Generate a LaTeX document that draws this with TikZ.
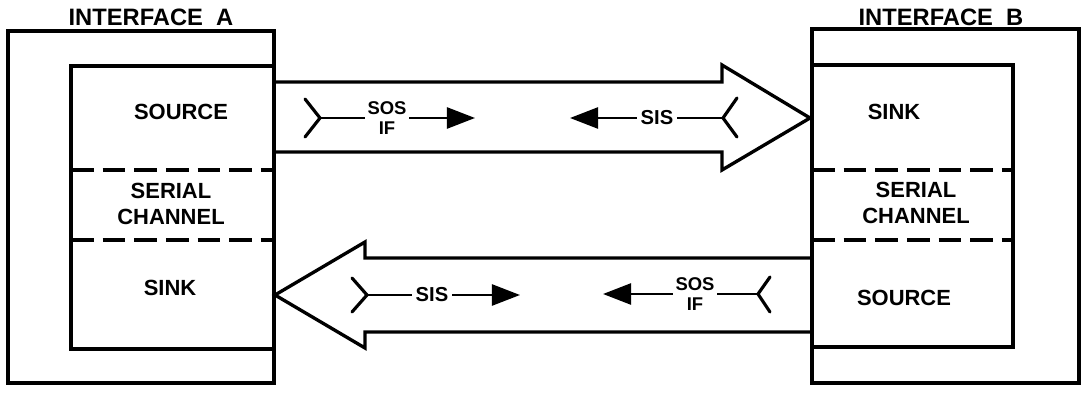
\documentclass[tikz,border=0pt]{standalone}
\usepackage{fontspec}
\setmainfont{Liberation Sans}
\usetikzlibrary{arrows.meta,fit}
\begin{document}
\begin{tikzpicture}[x=0.02cm,y=-0.02cm,
  frame/.style={draw,line width=1.9pt,inner sep=0pt},
  sepline/.style={line width=1.9pt,dash pattern=on 13pt off 5pt},
  bigarrow/.style={line width=1.9pt,line join=miter},
  sig/.style={line width=1.4pt},
  fork/.style={line width=1.8pt,line cap=round},
  tip/.style={-{Triangle[length=16pt,width=12pt]}},
  title/.style={font=\fontsize{13.5}{15}\selectfont\bfseries},
  boxlabel/.style={font=\fontsize{12.5}{15}\selectfont\bfseries,align=center},
  siglabel/.style={font=\fontsize{11.5}{12}\selectfont\bfseries,inner sep=2pt},
  stacklabel/.style={font=\fontsize{10.5}{11}\selectfont\bfseries,align=center,inner sep=1.5pt}]
\useasboundingbox (0,0) rectangle (1082,395);

% interface A
\node[frame,fit={(8,31) (274,383)}] (outA) {};
\node[frame,fit={(71,66) (274,349)}] (inA) {};
\draw[sepline] (71,170) -- (274,170);
\draw[sepline] (71,240) -- (274,240);
\node[title] (tA) at (151,17) {INTERFACE\ \ A};
\node[boxlabel] (srcA) at (181,112) {SOURCE};
\node[boxlabel] (serA) at (171,204) {SERIAL\\CHANNEL};
\node[boxlabel] (snkA) at (170,288) {SINK};

% interface B
\node[frame,fit={(812,29) (1079,383)}] (outB) {};
\node[frame,fit={(812,65) (1013,347)}] (inB) {};
\draw[sepline] (812,170) -- (1013,170);
\draw[sepline] (812,240) -- (1013,240);
\node[title] (tB) at (941,17) {INTERFACE\ \ B};
\node[boxlabel] (snkB) at (894,112) {SINK};
\node[boxlabel] (serB) at (916,203) {SERIAL\\CHANNEL};
\node[boxlabel] (srcB) at (904,298) {SOURCE};

% wide channel arrow A -> B
\draw[bigarrow] (274,82) -- (722,82) -- (722,65) -- (810,118)
  -- (722,170) -- (722,152) -- (274,152);
% wide channel arrow B -> A
\draw[bigarrow] (812,258) -- (365,258) -- (365,242) -- (275,295)
  -- (365,348) -- (365,332) -- (812,332);

% signals in the upper channel
\coordinate (f1) at (320,118);
\coordinate (t1) at (475,118);
\node[stacklabel] (l1) at (387,118) {SOS\\[0pt]IF};
\draw[fork] (305,99) -- (f1) -- (305,137);
\draw[sig] (f1) -- (l1);
\draw[sig,tip] (l1) -- (t1);

\coordinate (f2) at (723,118);
\coordinate (t2) at (570,118);
\node[siglabel] (l2) at (657,118) {SIS};
\draw[fork] (737,98) -- (f2) -- (737,137);
\draw[sig] (f2) -- (l2);
\draw[sig,tip] (l2) -- (t2);

% signals in the lower channel
\coordinate (f3) at (367,295);
\coordinate (t3) at (520,295);
\node[siglabel] (l3) at (432,295) {SIS};
\draw[fork] (352,278) -- (f3) -- (352,312);
\draw[sig] (f3) -- (l3);
\draw[sig,tip] (l3) -- (t3);

\coordinate (f4) at (758,294);
\coordinate (t4) at (603,294);
\node[stacklabel] (l4) at (695,294) {SOS\\[0pt]IF};
\draw[fork] (770,277) -- (f4) -- (770,312);
\draw[sig] (f4) -- (l4);
\draw[sig,tip] (l4) -- (t4);
\end{tikzpicture}
\end{document}
